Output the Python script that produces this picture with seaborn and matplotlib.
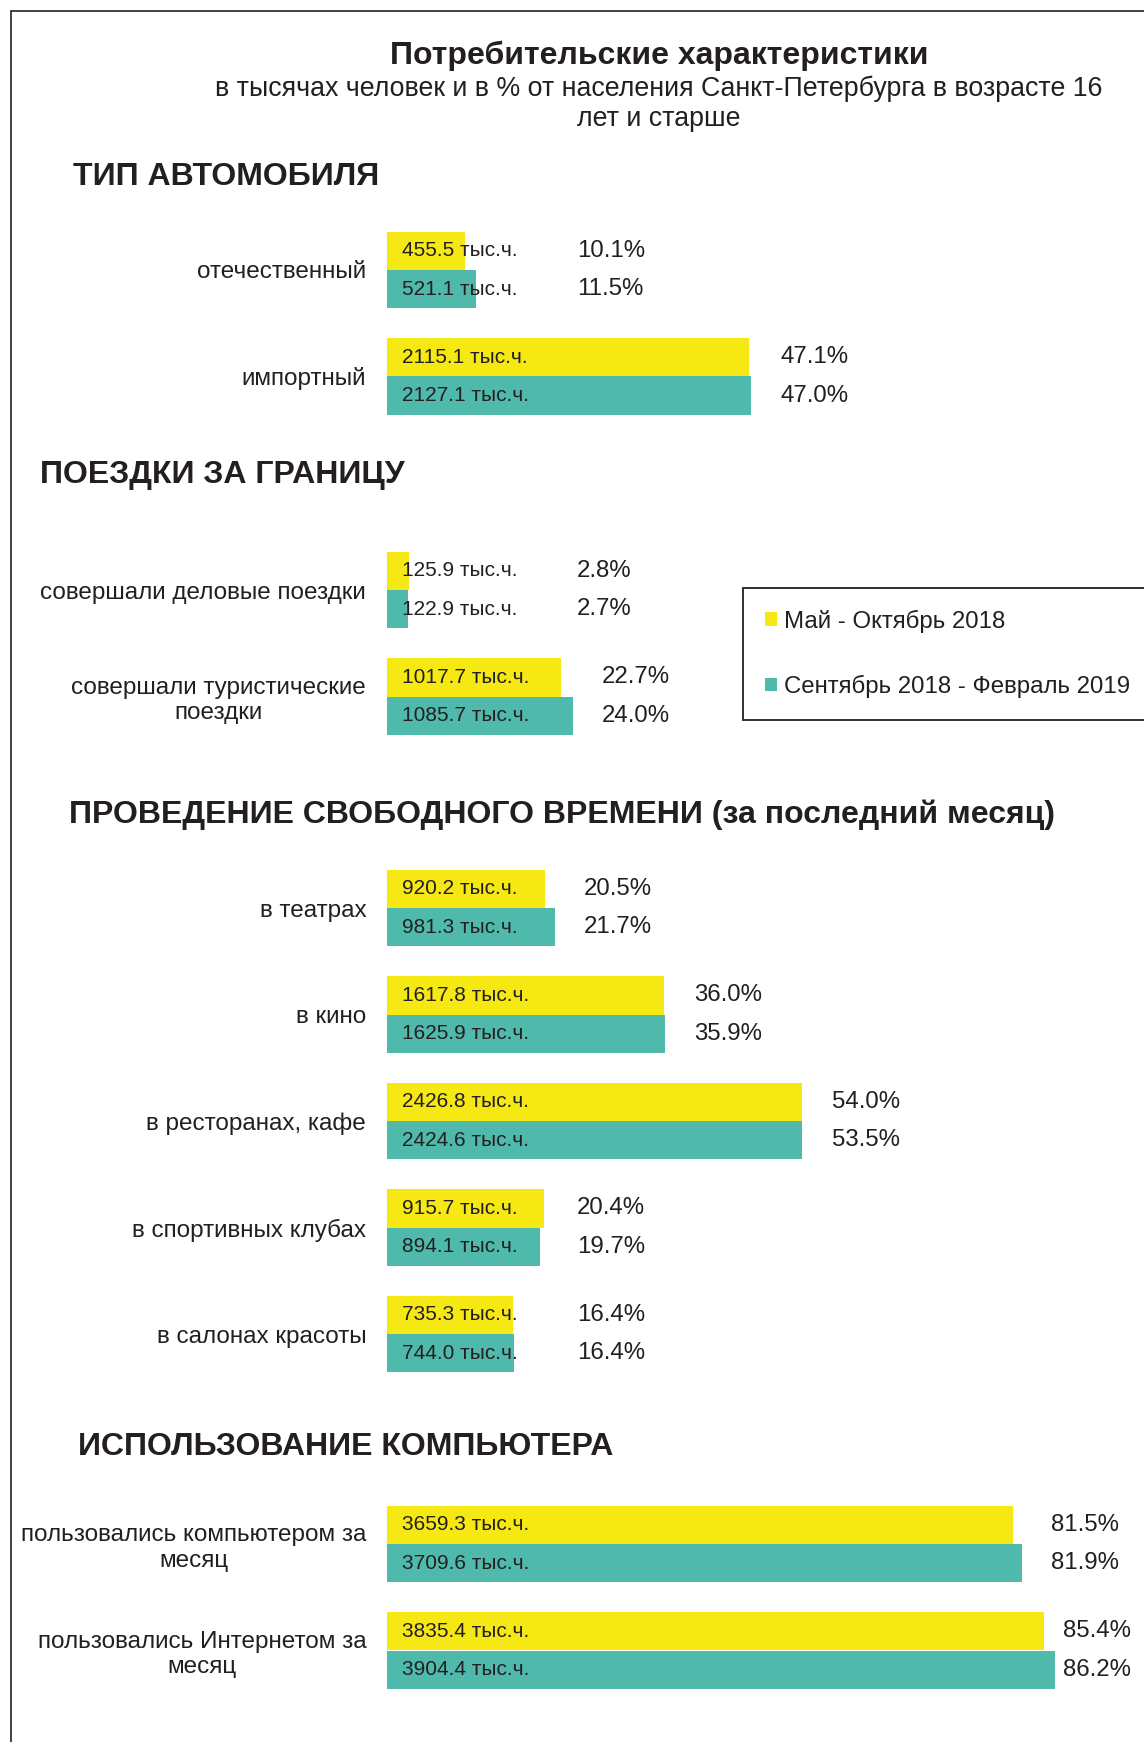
import matplotlib
matplotlib.use('Agg')
import matplotlib.pyplot as plt
import matplotlib.transforms as mtransforms
from matplotlib.lines import Line2D
from matplotlib.patches import Patch
import pandas as pd
import seaborn as sns

# данные
periods = ['Май - Октябрь 2018', 'Сентябрь 2018 - Февраль 2019']

car_labels = ['отечественный', 'импортный']
car_2018 = [455.5, 2115.1]
car_2019 = [521.1, 2127.1]
car_pct_2018 = [10.1, 47.1]
car_pct_2019 = [11.5, 47.0]

trip_labels = ['совершали деловые поездки', 'совершали туристические\nпоездки']
trip_2018 = [125.9, 1017.7]
trip_2019 = [122.9, 1085.7]
trip_pct_2018 = [2.8, 22.7]
trip_pct_2019 = [2.7, 24.0]

free_labels = ['в театрах', 'в кино', 'в ресторанах, кафе',
               'в спортивных клубах', 'в салонах красоты']
free_2018 = [920.2, 1617.8, 2426.8, 915.7, 735.3]
free_2019 = [981.3, 1625.9, 2424.6, 894.1, 744.0]
free_pct_2018 = [20.5, 36.0, 54.0, 20.4, 16.4]
free_pct_2019 = [21.7, 35.9, 53.5, 19.7, 16.4]

pc_labels = ['пользовались компьютером за\nмесяц', 'пользовались Интернетом за\nмесяц']
pc_2018 = [3659.3, 3835.4]
pc_2019 = [3709.6, 3904.4]
pc_pct_2018 = [81.5, 85.4]
pc_pct_2019 = [81.9, 86.2]

headers = ['ТИП АВТОМОБИЛЯ', 'ПОЕЗДКИ ЗА ГРАНИЦУ',
           'ПРОВЕДЕНИЕ СВОБОДНОГО ВРЕМЕНИ (за последний месяц)',
           'ИСПОЛЬЗОВАНИЕ КОМПЬЮТЕРА']

colors = ['#f6e813', '#4fbaac']
txt = '#231f20'

sns.set_style('white')
plt.rcParams['font.family'] = ['Liberation Sans', 'DejaVu Sans']

W, H = 1144, 1742
fig = plt.figure(figsize=(W / 100, H / 100), dpi=100)

# рамка
fig.add_artist(Line2D([11 / W, 1], [1 - 11 / H] * 2, transform=fig.transFigure, color='#333333', lw=1.3))
fig.add_artist(Line2D([11 / W, 11 / W], [1 - 11 / H, 0], transform=fig.transFigure, color='#333333', lw=1.3))

fig.text(659 / W, 1 - 56 / H, 'Потребительские характеристики', ha='center', va='center',
         fontsize=23, fontweight='bold', color=txt)
fig.text(659 / W, 1 - 104 / H, 'в тысячах человек и в % от населения Санкт-Петербурга в возрасте 16\nлет и старше',
         ha='center', va='center', multialignment='center', fontsize=19.3, color=txt, linespacing=1.2)

x0 = 387          # начало столбцов, px
px_per_unit = 0.1712
xmax = (W - x0) / px_per_unit
row = 106.5

sections = [
    (headers[0], (73, 177), 270, car_labels, car_2018, car_2019, car_pct_2018, car_pct_2019),
    (headers[1], (40, 475), 590, trip_labels, trip_2018, trip_2019, trip_pct_2018, trip_pct_2019),
    (headers[2], (69, 815), 908, free_labels, free_2018, free_2019, free_pct_2018, free_pct_2019),
    (headers[3], (78, 1447), 1544, pc_labels, pc_2018, pc_2019, pc_pct_2018, pc_pct_2019),
]

for head, (hx, hy), first_c, labels, v1, v2, p1, p2 in sections:
    fig.text(hx / W, 1 - hy / H, head, ha='left', va='center', fontsize=23,
             fontweight='bold', color=txt)
    n = len(labels)
    top = first_c - row / 2
    ax = fig.add_axes([x0 / W, 1 - (top + n * row) / H, (W - x0) / W, n * row / H])
    df = pd.DataFrame({
        'cat': labels * 2,
        'val': v1 + v2,
        'period': [periods[0]] * n + [periods[1]] * n,
    })
    sns.barplot(data=df, y='cat', x='val', hue='period', hue_order=periods, order=labels,
                orient='h', palette=colors, width=0.72, ax=ax, legend=False,
                saturation=1, linewidth=0)
    ax.set_xlim(0, xmax)
    ax.set_ylim(n - 0.5, -0.5)
    ax.set(xlabel='', ylabel='', xticks=[])
    ax.tick_params(axis='y', length=0, pad=15, labelsize=17.5, labelcolor=txt)
    for lab in ax.get_yticklabels():
        lab.set_multialignment('center')
    sns.despine(ax=ax, left=True, bottom=True)
    ax.patch.set_alpha(0)

    shift = mtransforms.offset_copy(ax.transData, fig=fig, x=15, y=0, units='dots')
    for cont, vals, pcts in zip(ax.containers, [v1, v2], [p1, p2]):
        for i, (bar, v, p) in enumerate(zip(cont, vals, pcts)):
            yc = bar.get_y() + bar.get_height() / 2
            ax.text(0, yc, f'{v:.1f} тыс.ч.', transform=shift, ha='left', va='center',
                    fontsize=15, color=txt)
            end = max(v1[i], v2[i])
            px = min(max(end + 170, 1110), 3950)
            ax.text(px, yc, f'{p:.1f}%', ha='left', va='center', fontsize=17.3, color=txt)

handles = [Patch(facecolor=c, edgecolor='none') for c in colors]
leg = fig.legend(handles, periods, loc='upper left', bbox_to_anchor=(743 / W, 1 - 588 / H),
                 bbox_transform=fig.transFigure, borderaxespad=0, fontsize=17.3,
                 frameon=True, fancybox=False, framealpha=1, edgecolor=txt,
                 handlelength=0.5, handleheight=0.5, handletextpad=0.3,
                 labelspacing=1.75, borderpad=0.9, labelcolor=txt)
leg.get_frame().set_linewidth(1.3)

fig.savefig('out.png', dpi=100)
